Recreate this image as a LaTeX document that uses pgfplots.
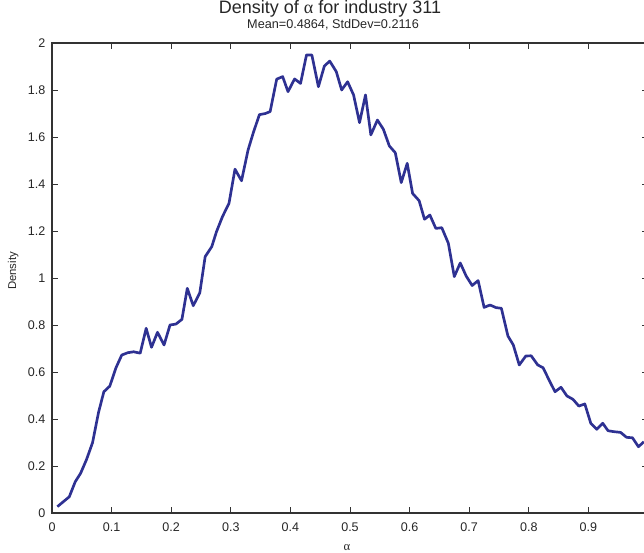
\documentclass[border=0pt]{standalone}
\usepackage{fontspec}
\setmainfont{Liberation Sans}
\newfontfamily\symf{Liberation Serif}
\usepackage{pgfplots}
\pgfplotsset{compat=1.18}
\definecolor{cLine}{HTML}{2E3192}

\begin{document}
\begin{tikzpicture}
\begin{axis}[
    name=ax, scale only axis, width=447pt, height=352.5pt,
    xmin=0, xmax=1, ymin=0, ymax=2,
    xtick={0,0.1,0.2,0.3,0.4,0.5,0.6,0.7,0.8,0.9},
    xticklabels={0,0.1,0.2,0.3,0.4,0.5,0.6,0.7,0.8,0.9},
    ytick={0,0.2,0.4,0.6,0.8,1,1.2,1.4,1.6,1.8,2},
    yticklabels={0,0.2,0.4,0.6,0.8,1,1.2,1.4,1.6,1.8,2},
    tick align=inside, major tick length=4.2pt,
    every tick/.style={black!80, line width=0.6pt},
    axis line style={black!80, line width=0.8pt},
    /pgf/number format/assume math mode=true,
    tick label style={font=\fontsize{9.4}{11}\selectfont, text=black!85},
    xticklabel style={yshift=-3.5pt},
    yticklabel style={xshift=-1.5pt},
    clip=false,
]
\addplot[cLine, line width=2pt, line join=round] coordinates {
  (0.009,0.027) (0.029,0.069) (0.039,0.133) (0.048,0.169) (0.058,0.228)
  (0.068,0.299) (0.078,0.427) (0.087,0.516) (0.097,0.540) (0.107,0.616)
  (0.117,0.672) (0.127,0.682) (0.137,0.686) (0.148,0.680) (0.158,0.786)
  (0.167,0.705) (0.177,0.769) (0.188,0.715) (0.198,0.800) (0.208,0.804)
  (0.218,0.824) (0.227,0.956) (0.237,0.882) (0.248,0.937) (0.257,1.091)
  (0.268,1.133) (0.276,1.197) (0.286,1.261) (0.297,1.318) (0.307,1.463)
  (0.318,1.414) (0.329,1.545) (0.338,1.620) (0.348,1.695) (0.358,1.700)
  (0.366,1.708) (0.377,1.846) (0.387,1.857) (0.396,1.793) (0.407,1.847)
  (0.417,1.828) (0.427,1.949) (0.436,1.949) (0.447,1.814) (0.457,1.902)
  (0.466,1.923) (0.477,1.878) (0.486,1.800) (0.496,1.835) (0.506,1.779)
  (0.516,1.661) (0.526,1.779) (0.535,1.609) (0.546,1.672) (0.556,1.633)
  (0.566,1.562) (0.576,1.533) (0.586,1.406) (0.596,1.488) (0.605,1.360)
  (0.616,1.329) (0.625,1.250) (0.634,1.268) (0.644,1.211) (0.654,1.214)
  (0.665,1.148) (0.675,1.006) (0.685,1.064) (0.695,1.008) (0.705,0.968)
  (0.715,0.989) (0.725,0.875) (0.735,0.885) (0.745,0.874) (0.754,0.871)
  (0.765,0.753) (0.774,0.715) (0.784,0.630) (0.795,0.668) (0.804,0.669)
  (0.815,0.630) (0.824,0.618) (0.834,0.566) (0.844,0.516) (0.854,0.535)
  (0.864,0.498) (0.874,0.484) (0.884,0.455) (0.894,0.464) (0.904,0.382)
  (0.914,0.356) (0.924,0.382) (0.933,0.350) (0.943,0.346) (0.954,0.343)
  (0.964,0.322) (0.974,0.320) (0.984,0.282) (0.993,0.303)};
% titles and labels
\node[anchor=base, font=\fontsize{13.5}{15}\selectfont, text=black!85] at (axis cs:0.4664,2.1264) {Density of {\symf α} for industry 311};
\node[anchor=base, font=\fontsize{9.5}{11}\selectfont, text=black!85] at (axis cs:0.4715,2.0626) {Mean=0.4864, StdDev=0.2116};
\node[anchor=base, font=\fontsize{9.5}{10}\selectfont, text=black!85] at (axis cs:0.495,-0.160) {\symf α};
\node[anchor=base, rotate=90, font=\fontsize{8.5}{10}\selectfont, text=black!85] at (axis cs:-0.0600,1.03) {Density};
% the reference is cropped just left of the right axis line
\coordinate (bbsw) at (axis cs:-0.08725,-0.17021);
\coordinate (bbne) at (axis cs:0.99329,2.18298);
\end{axis}
\pgfresetboundingbox
\useasboundingbox (bbsw) rectangle (bbne);
\end{tikzpicture}
\end{document}
